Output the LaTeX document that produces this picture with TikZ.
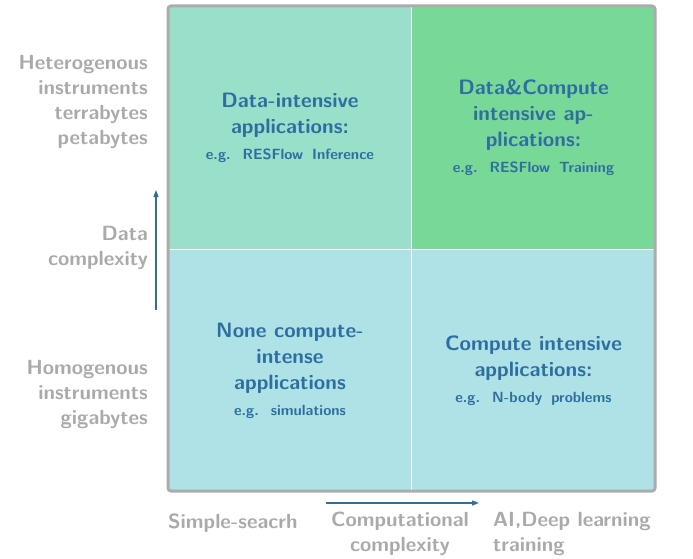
\documentclass[tikz,border=0pt]{standalone}
\usepackage{fontspec}
\usetikzlibrary{arrows.meta}
\newfontfamily\sansbx{lmsans10-bold.otf}
\definecolor{mintfill}{RGB}{153,223,201}
\definecolor{greenfill}{RGB}{120,216,152}
\definecolor{cyanfill}{RGB}{174,226,230}
\definecolor{textblue}{RGB}{46,110,160}
\definecolor{labelgray}{RGB}{170,170,170}
\definecolor{framegray}{RGB}{172,172,172}
\tikzset{
  quad/.style={rectangle, draw=white, line width=1pt, inner sep=0pt,
    anchor=north west, align=center, text=textblue,
    font=\sansbx\fontsize{20.8}{26}\selectfont},
  sidelabel/.style={inner sep=0pt, align=right, text=labelgray,
    font=\sansbx\fontsize{20.5}{25}\selectfont},
  botlabel/.style={inner sep=0pt, text=labelgray,
    font=\sansbx\fontsize{20.5}{25}\selectfont},
  axisarrow/.style={draw=textblue, line width=1.2pt,
    -{Triangle[length=7pt,width=5pt]}},
}
\newcommand{\egline}[1]{\fontsize{14.8}{18}\selectfont #1}
\begin{document}
\begin{tikzpicture}[x=1pt,y=-1pt]
\useasboundingbox (0,0) rectangle (693,559);

% four quadrants
\node[quad, fill=mintfill, minimum width=243pt, minimum height=243pt] (tl) at (168,6)
  {Data-intensive\\applications:\\\egline{e.g.\hspace{12pt}RESFlow\hspace{9pt}Inference}};
\node[quad, fill=greenfill, minimum width=244pt, minimum height=243pt] (tr) at (411,6)
  {Data\&Compute\\intensive ap-\\plications:\\\egline{e.g.\hspace{12pt}RESFlow\hspace{9pt}Training}};
\node[quad, fill=cyanfill, minimum width=243pt, minimum height=242pt] (bl) at (168,249)
  {None compute-\\intense\\applications\\\egline{e.g.\hspace{12pt}simulations}};
\node[quad, fill=cyanfill, minimum width=244pt, minimum height=242pt] (br) at (411,249)
  {Compute intensive\\applications:\\\egline{e.g.\hspace{12pt}N-body\hspace{9pt}problems}};

% outer frame
\draw[framegray, line width=3pt, rounded corners=3pt] (168,6) rectangle (655,491);

% vertical axis labels
\node[sidelabel, anchor=east] (hetero) at (148,102) {Heterogenous\\instruments\\terrabytes\\petabytes};
\node[sidelabel, anchor=east] (datacx) at (148,248) {Data\\complexity};
\node[sidelabel, anchor=east] (homo) at (148,394) {Homogenous\\instruments\\gigabytes};

% axis arrows
\coordinate (vstart) at (156,310);
\coordinate (vend) at (156,190);
\draw[axisarrow] (vstart) -- (vend);
\coordinate (hstart) at (326,503);
\coordinate (hend) at (479,503);
\draw[axisarrow] (hstart) -- (hend);

% horizontal axis labels
\node[botlabel, anchor=base west] (simple) at (168,528) {Simple-seacrh};
\node[botlabel, anchor=north, align=center] (compcx) at (400,512) {Computational\\complexity};
\node[botlabel, anchor=north west, align=left] (ai) at (493,512) {AI,Deep learning\\training};
\end{tikzpicture}
\end{document}
